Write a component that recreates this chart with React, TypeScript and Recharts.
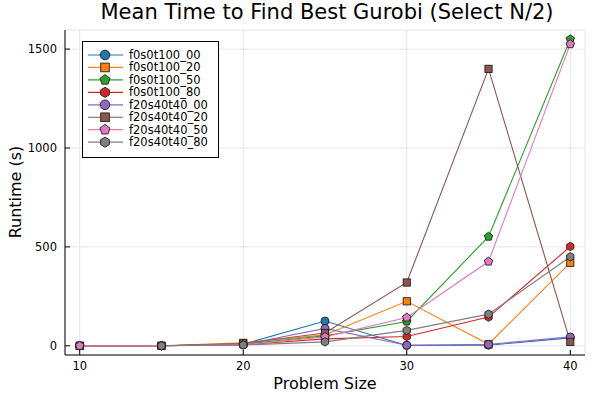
import { CartesianGrid, Line, LineChart, XAxis, YAxis } from "recharts";

const problemSizes = [10, 15, 20, 25, 30, 35, 40];

const f0s0t100_00 = [0, 0, 8, 125, 2, 3, 40];
const f0s0t100_20 = [0, 0, 15, 55, 225, 8, 420];
const f0s0t100_50 = [0, 0, 8, 50, 123, 552, 1550];
const f0s0t100_80 = [0, 0, 5, 35, 47, 145, 502];
const f20s40t40_00 = [0, 0, 6, 88, 3, 7, 45];
const f20s40t40_20 = [0, 0, 12, 65, 320, 1400, 20];
const f20s40t40_50 = [0, 0, 5, 45, 143, 426, 1525];
const f20s40t40_80 = [null, 0, 4, 20, 78, 160, 450];

const xTicks = [10, 20, 30, 40];
const yTicks = [0, 500, 1000, 1500];

type Shape = "circle" | "square" | "pentagon" | "hexagon";

const SERIES: { name: string; values: (number | null)[]; color: string; shape: Shape }[] = [
  { name: "f0s0t100_00", values: f0s0t100_00, color: "#1f77b4", shape: "circle" },
  { name: "f0s0t100_20", values: f0s0t100_20, color: "#ff7f0e", shape: "square" },
  { name: "f0s0t100_50", values: f0s0t100_50, color: "#2ca02c", shape: "pentagon" },
  { name: "f0s0t100_80", values: f0s0t100_80, color: "#d62728", shape: "hexagon" },
  { name: "f20s40t40_00", values: f20s40t40_00, color: "#9467bd", shape: "circle" },
  { name: "f20s40t40_20", values: f20s40t40_20, color: "#8c564b", shape: "square" },
  { name: "f20s40t40_50", values: f20s40t40_50, color: "#e377c2", shape: "pentagon" },
  { name: "f20s40t40_80", values: f20s40t40_80, color: "#7f7f7f", shape: "hexagon" }
];

const rows = problemSizes.map((size, i) => {
  const row: Record<string, number | null> = { size };
  SERIES.forEach((s) => {
    row[s.name] = s.values[i];
  });
  return row;
});

const FONT = "DejaVu Sans, sans-serif";

function polygon(cx: number, cy: number, r: number, n: number): string {
  const pts: string[] = [];
  for (let k = 0; k < n; k++) {
    const a = -Math.PI / 2 + (2 * Math.PI * k) / n;
    pts.push(`${cx + r * Math.cos(a)},${cy + r * Math.sin(a)}`);
  }
  return pts.join(" ");
}

function Marker({ cx, cy, shape, color, size }: { cx: number; cy: number; shape: Shape; color: string; size: number }) {
  const stroke = "#222";
  const sw = 0.9;
  if (shape === "circle") return <circle cx={cx} cy={cy} r={size} fill={color} stroke={stroke} strokeWidth={sw} />;
  if (shape === "square")
    return (
      <rect x={cx - size * 0.9} y={cy - size * 0.9} width={size * 1.8} height={size * 1.8} fill={color} stroke={stroke} strokeWidth={sw} />
    );
  if (shape === "pentagon")
    return <polygon points={polygon(cx, cy, size * 1.1, 5)} fill={color} stroke={stroke} strokeWidth={sw} />;
  return <polygon points={polygon(cx, cy, size * 1.05, 6)} fill={color} stroke={stroke} strokeWidth={sw} />;
}

function XTick(props: any) {
  const { x, y, payload } = props;
  return (
    <g>
      <line x1={x} y1={y} x2={x} y2={y - 5} stroke="#000" strokeWidth={1} />
      <text x={x} y={y + 15} textAnchor="middle" fontSize={11.5} fontFamily={FONT} fill="#000">
        {payload.value}
      </text>
    </g>
  );
}

function YTick(props: any) {
  const { x, y, payload } = props;
  return (
    <g>
      <line x1={x} y1={y} x2={x + 5} y2={y} stroke="#000" strokeWidth={1} />
      <text x={x - 8} y={y + 4} textAnchor="end" fontSize={11.5} fontFamily={FONT} fill="#000">
        {payload.value}
      </text>
    </g>
  );
}

function LegendBox() {
  return (
    <svg width={138} height={118} style={{ position: "absolute", left: 82, top: 41 }}>
      <rect x={0.5} y={0.5} width={136} height={116} fill="#fff" stroke="#000" strokeWidth={1} />
      {SERIES.map((s, i) => {
        const cy = 14 + i * 12.45;
        return (
          <g key={s.name}>
            <line x1={6} y1={cy} x2={41} y2={cy} stroke={s.color} strokeWidth={1.2} />
            <Marker cx={23} cy={cy} shape={s.shape} color={s.color} size={4.8} />
            <text x={47} y={cy + 4} fontSize={11.5} fontFamily={FONT} fill="#000">
              {s.name}
            </text>
          </g>
        );
      })}
    </svg>
  );
}

export default function App() {
  return (
    <div style={{ position: "absolute", left: 0, top: 0, width: 598, height: 399, background: "#fff" }}>
      <LineChart width={598} height={399} data={rows} margin={{ top: 30, right: 13, bottom: 0, left: 0 }}>
        <CartesianGrid stroke="#e6e6e6" strokeWidth={1} />
        <XAxis
          dataKey="size"
          type="number"
          domain={[9.1, 40.9]}
          ticks={xTicks}
          allowDataOverflow
          height={44}
          stroke="#000"
          tickSize={0}
          tickMargin={0}
          tickLine={false}
          tick={<XTick />}
        />
        <YAxis
          type="number"
          domain={[-46.5, 1596.5]}
          ticks={yTicks}
          allowDataOverflow
          width={65}
          stroke="#000"
          tickSize={0}
          tickMargin={0}
          tickLine={false}
          tick={<YTick />}
        />
        {SERIES.map((s) => (
          <Line
            key={s.name}
            dataKey={s.name}
            stroke={s.color}
            strokeWidth={1.1}
            isAnimationActive={false}
            connectNulls
            dot={(p: any) =>
              p.value == null ? <g key={p.index} /> : (
                <Marker key={p.index} cx={p.cx} cy={p.cy} shape={s.shape} color={s.color} size={4} />
              )
            }
            activeDot={false}
          />
        ))}
      </LineChart>
      <div
        style={{
          position: "absolute",
          left: 327,
          top: 0,
          transform: "translateX(-50%)",
          whiteSpace: "nowrap",
          fontFamily: FONT,
          fontSize: 21,
          color: "#000"
        }}
      >
        Mean Time to Find Best Gurobi (Select N/2)
      </div>
      <div
        style={{
          position: "absolute",
          left: 325,
          top: 374,
          transform: "translateX(-50%)",
          whiteSpace: "nowrap",
          fontFamily: FONT,
          fontSize: 16,
          color: "#000"
        }}
      >
        Problem Size
      </div>
      <div
        style={{
          position: "absolute",
          left: 15,
          top: 192,
          transform: "translate(-50%, -50%) rotate(-90deg)",
          whiteSpace: "nowrap",
          fontFamily: FONT,
          fontSize: 16,
          color: "#000"
        }}
      >
        Runtime (s)
      </div>
      <LegendBox />
    </div>
  );
}
